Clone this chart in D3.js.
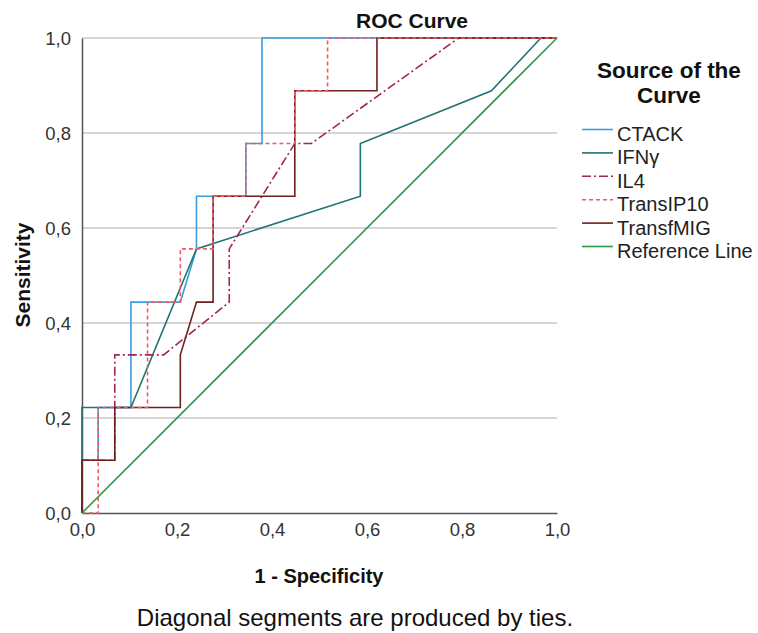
<!DOCTYPE html>
<html><head><meta charset="utf-8">
<script src="https://cdn.jsdelivr.net/npm/d3@7"></script>
<style>
html,body{margin:0;padding:0;background:#fff;}
svg{display:block;font-family:"Liberation Sans",Arial,sans-serif;}
</style></head>
<body><svg id="chart" width="758" height="633"></svg>
<script>
// ---- data ----
const seriesNames = ["CTACK","IFNγ","IL4","TransIP10","TransfMIG","Reference Line"];
const ctackX = [0,0,0.034,0.034,0.103,0.103,0.207,0.241,0.241,0.345,0.345,0.379,0.379,1];
const ctackY = [0,0.111,0.111,0.222,0.222,0.444,0.444,0.556,0.667,0.667,0.778,0.778,1,1];
const ifngX = [0,0,0.103,0.241,0.586,0.586,0.862,0.966,1];
const ifngY = [0,0.222,0.222,0.556,0.667,0.778,0.889,1,1];
const il4X = [0,0,0.069,0.069,0.172,0.310,0.310,0.448,0.483,0.793,1];
const il4Y = [0,0.111,0.111,0.333,0.333,0.444,0.556,0.778,0.778,1,1];
const ip10X = [0,0.034,0.034,0.138,0.138,0.207,0.207,0.276,0.276,0.345,0.345,0.448,0.448,0.517,0.517,1];
const ip10Y = [0,0,0.222,0.222,0.444,0.444,0.556,0.556,0.667,0.667,0.778,0.778,0.889,0.889,1,1];
const migX = [0,0,0.069,0.069,0.207,0.207,0.241,0.276,0.276,0.448,0.448,0.621,0.621,1];
const migY = [0,0.111,0.111,0.222,0.222,0.333,0.444,0.444,0.667,0.667,0.889,0.889,1,1];
const refX = [0,1];
const refY = [0,1];
const tickValues = [0,0.2,0.4,0.6,0.8,1.0];
const tickLabels = ["0,0","0,2","0,4","0,6","0,8","1,0"];

const colors = {"CTACK":"#3d9be0","IFNγ":"#217272","IL4":"#a3245c","TransIP10":"#f05a5f","TransfMIG":"#6e1f1f","Reference Line":"#2e9a48"};
const dashes = {"CTACK":null,"IFNγ":null,"IL4":"9,3,2,3","TransIP10":"4,3","TransfMIG":null,"Reference Line":null};

const series = [
  {name:"CTACK", x:ctackX, y:ctackY},
  {name:"IFNγ", x:ifngX, y:ifngY},
  {name:"IL4", x:il4X, y:il4Y},
  {name:"TransfMIG", x:migX, y:migY},
  {name:"TransIP10", x:ip10X, y:ip10Y},
  {name:"Reference Line", x:refX, y:refY}
];

const svg = d3.select("#chart");
const x = d3.scaleLinear().domain([0,1]).range([82,557]);
const y = d3.scaleLinear().domain([0,1]).range([513,38]);

// gridlines
svg.append("g").selectAll("line").data(tickValues.filter(v=>v>0)).join("line")
  .attr("x1",x(0)).attr("x2",x(1)).attr("y1",d=>y(d)).attr("y2",d=>y(d))
  .attr("stroke","#c8c8c8").attr("stroke-width",1.5);

// axes
const xAxis = d3.axisBottom(x).tickValues(tickValues).tickFormat((d,i)=>tickLabels[i]).tickSize(0).tickPadding(10);
const yAxis = d3.axisLeft(y).tickValues(tickValues).tickFormat((d,i)=>tickLabels[i]).tickSize(0).tickPadding(11);
const gx = svg.append("g").attr("transform",`translate(0,${y(0)})`).call(xAxis);
const gy = svg.append("g").attr("transform",`translate(${x(0)},0)`).call(yAxis);
[gx,gy].forEach(g=>{
  g.select(".domain").attr("stroke","#555").attr("stroke-width",1.5);
  g.selectAll("text").attr("font-size",18.5).attr("fill","#333").attr("font-family","Liberation Sans, Arial, sans-serif");
});
gy.selectAll("text").attr("dy","0.35em");

// lines
const line = d3.line().x(d=>x(d[0])).y(d=>y(d[1]));
svg.append("g").selectAll("path").data(series).join("path")
  .attr("d",s=>line(s.x.map((v,i)=>[v,s.y[i]])))
  .attr("fill","none")
  .attr("stroke",s=>colors[s.name])
  .attr("stroke-width",1.6)
  .attr("stroke-dasharray",s=>dashes[s.name]);

// titles
svg.append("text").attr("x",412).attr("y",28).attr("text-anchor","middle")
  .attr("font-weight","bold").attr("font-size",21).attr("fill","#111").text("ROC Curve");
svg.append("text").attr("x",319).attr("y",583).attr("text-anchor","middle")
  .attr("font-weight","bold").attr("font-size",20).attr("fill","#111").text("1 - Specificity");
svg.append("text").attr("transform","translate(30,275) rotate(-90)").attr("text-anchor","middle")
  .attr("font-weight","bold").attr("font-size",21).attr("fill","#111").text("Sensitivity");
svg.append("text").attr("x",355).attr("y",626).attr("text-anchor","middle")
  .attr("font-size",24).attr("fill","#111").text("Diagonal segments are produced by ties.");

// legend
const lg = svg.append("g");
lg.append("text").attr("x",669).attr("y",78).attr("text-anchor","middle")
  .attr("font-weight","bold").attr("font-size",22.5).attr("fill","#111").text("Source of the");
lg.append("text").attr("x",669).attr("y",103).attr("text-anchor","middle")
  .attr("font-weight","bold").attr("font-size",22.5).attr("fill","#111").text("Curve");
const items = lg.selectAll("g.item").data(seriesNames).join("g").attr("class","item")
  .attr("transform",(d,i)=>`translate(0,${129.5+i*23.4})`);
items.append("line").attr("x1",582).attr("x2",613).attr("y1",0).attr("y2",0)
  .attr("stroke",d=>colors[d]).attr("stroke-width",1.6).attr("stroke-dasharray",d=>dashes[d]);
items.append("text").attr("x",617).attr("y",11.5).attr("font-size",20).attr("fill","#222").text(d=>d);
</script></body></html>
